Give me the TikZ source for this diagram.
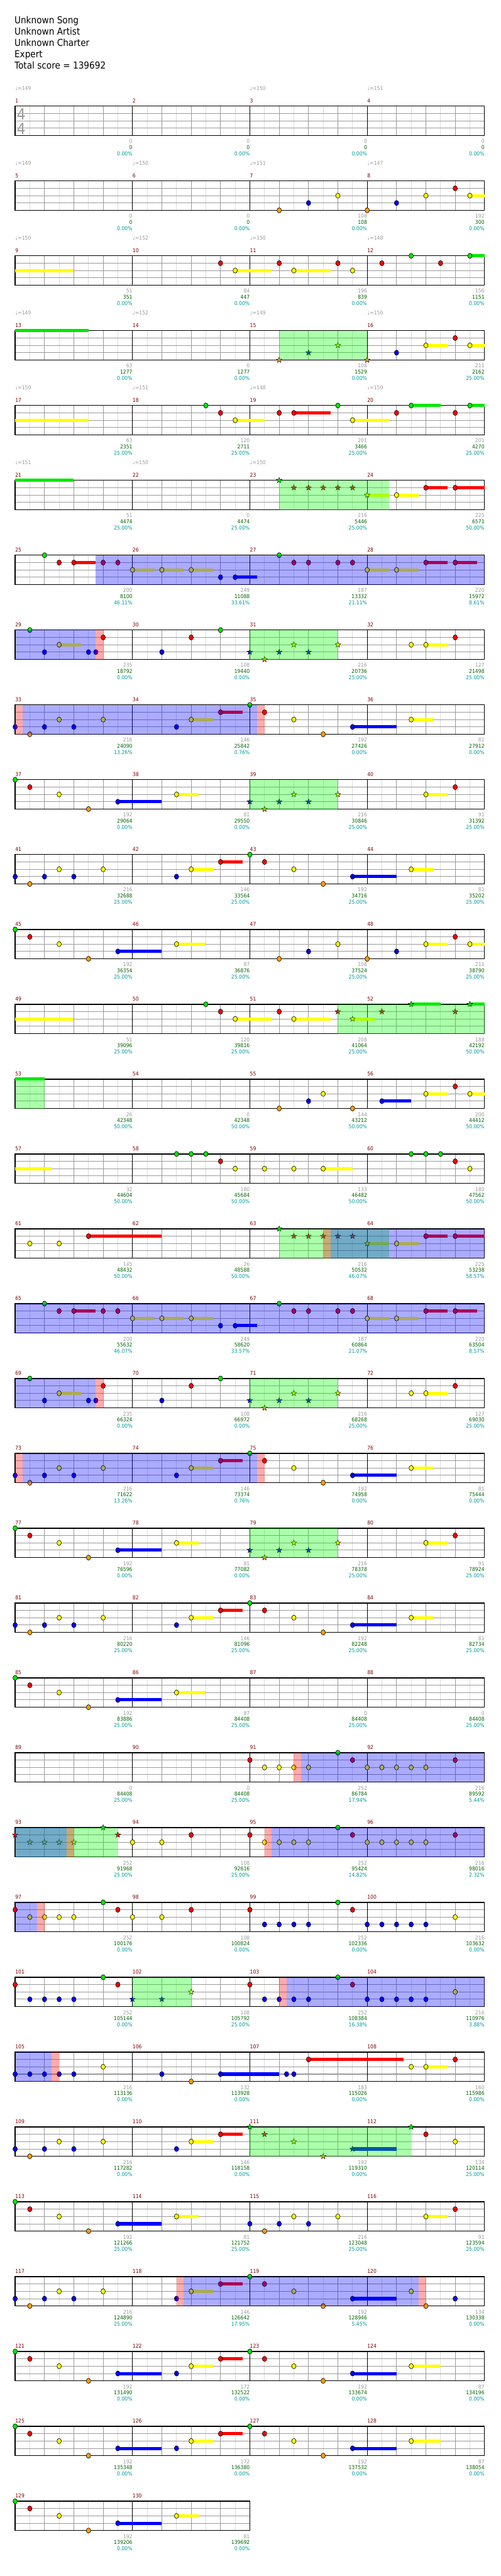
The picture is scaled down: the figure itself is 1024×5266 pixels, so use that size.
\documentclass[tikz,border=0pt]{standalone}
\usepackage{fontspec}
\setmainfont{DejaVu Sans}[FakeStretch=0.9]
\newfontfamily\notefont{DejaVu Sans}
\usetikzlibrary{shapes.geometric}

\definecolor{LANE0}{HTML}{00E800}
\definecolor{LANE1}{HTML}{FF0000}
\definecolor{LANE2}{HTML}{FFFF00}
\definecolor{LANE3}{HTML}{0000FF}
\definecolor{LANE4}{HTML}{FFA000}
\definecolor{CH_BAR}{HTML}{800000}
\definecolor{CH_GRAY}{HTML}{9A9A9A}
\definecolor{CH_LIGHT}{HTML}{DDDDDD}
\definecolor{CH_SCORE}{HTML}{006400}
\definecolor{CH_PCT}{HTML}{009999}

\tikzset{
  subline/.style={CH_LIGHT, line width=1pt},
  beatline/.style={CH_GRAY, line width=1pt},
  laneline/.style={CH_GRAY, line width=1.3pt},
  barline/.style={black, line width=1pt},
  staffbox/.style={black, line width=1.6pt},
  gem/.style={
    ellipse, draw=black, line width=0.8pt,
    minimum width=9pt, minimum height=10.5pt, inner sep=0pt},
  stargem/.style={
    star, star points=5, star point ratio=2.4,
    draw=black, line width=0.6pt, minimum size=12pt, inner sep=0pt},
  tail/.style={line width=6.5pt},
  spfill/.style={fill=blue, fill opacity=0.33},
  solofill/.style={fill=green, fill opacity=0.33},
  markfill/.style={fill=red, fill opacity=0.33},
  smalltxt/.style={inner sep=0pt, font=\fontsize{11}{11}\selectfont},
  barnum/.style={smalltxt, anchor=base west, text=CH_BAR},
  tempotxt/.style={smalltxt, anchor=base west, text=CH_GRAY},
  gaptxt/.style={smalltxt, anchor=base east, text=CH_GRAY},
  scoretxt/.style={smalltxt, anchor=base east, text=CH_SCORE},
  pcttxt/.style={smalltxt, anchor=base east, text=CH_PCT},
  header/.style={anchor=base west, inner sep=0pt, font=\fontsize{19.5}{19.5}\selectfont},
  timesig/.style={anchor=base west, inner sep=0pt, text=CH_GRAY, font=\fontsize{31}{31}\selectfont},
  row/.style={shift={(0,{217+153*(#1-1)})}},
}

% grid of one row, #1 = number of measures
\newcommand{\staff}[1]{%
  \pgfmathtruncatemacro\nsub{8*#1-1}
  \pgfmathtruncatemacro\nbar{#1-1}
  \foreach \j in {1,3,...,\nsub} \draw[subline] ({31+30*\j},0) -- ++(0,60);
  \foreach \j in {2,4,...,\nsub} \draw[beatline] ({31+30*\j},0) -- ++(0,60);
  \foreach \k in {15,30,45} \draw[laneline] (31,\k) -- ({31+240*#1},\k);
  \foreach \j in {1,...,\nbar} \draw[barline] ({31+240*\j},0) -- ++(0,60);
  \draw[staffbox] (31,0) rectangle ({31+240*#1},60);
}
\newcommand{\tails}[1]{%
  \foreach \from/\upto/\lane in {#1}
    \draw[tail, draw=LANE\lane] ({31+30*\from},{15*\lane}) -- ({31+30*\upto},{15*\lane});
}
\newcommand{\gems}[1]{%
  \foreach \pos/\lane [count=\n] in {#1}
    \node[gem, fill=LANE\lane] (gem\n) at ({31+30*\pos},{15*\lane}) {};
}
\newcommand{\stars}[1]{%
  \foreach \pos/\lane [count=\n] in {#1}
    \node[stargem, fill=LANE\lane] (star\n) at ({31+30*\pos},{15*\lane}) {};
}
\newcommand{\spzone}[2]{\fill[spfill] ({31+30*#1},0) rectangle ({31+30*#2},60);}
\newcommand{\solozone}[2]{\fill[solofill] ({31+30*#1},0) rectangle ({31+30*#2},60);}
\newcommand{\markzone}[2]{\fill[markfill] ({31+30*#1},0) rectangle ({31+30*#2},60);}
\newcommand{\bars}[2]{%
  \foreach \i in {1,...,#2} {
    \pgfmathtruncatemacro\mn{#1+\i-1}
    \node[barnum] (bar\mn) at ({31+240*(\i-1)},-7) {\mn};
  }
}
\newcommand{\tempos}[1]{%
  \foreach \i/\bpm in {#1}
    \node[tempotxt] (bpm\i) at ({31+240*(\i-1)},-33) {{\notefont ♩}=\bpm};
}
\newcommand{\scores}[1]{%
  \foreach \g/\s/\q [count=\i] in {#1} {
    \node[gaptxt] (gap\i) at ({31+240*\i},76) {\g};
    \node[scoretxt] (score\i) at ({31+240*\i},88.5) {\s};
    \node[pcttxt] (pct\i) at ({31+240*\i},101) {\q\%};
  }
}

% repeated phrases
\newcommand{\riffA}{%
  \tails{12/13.5/2,14/15.5/1,23/26/3,27/28.5/2}
  \gems{0/3,1/4,2/3,3/2,4/3,6/2,11/3,12/2,14/1,16/0,17/1,19/2,21/4,23/3,27/2}}
\newcommand{\riffB}{%
  \tails{7/10/3,11/12.5/2,28/29.5/2}
  \gems{0/0,1/1,3/2,5/4,7/3,11/2,28/2,30/1}
  \stars{16/3,17/4,18/3,19/2,20/3,22/2}
  \solozone{16}{22}}
\newcommand{\riffC}{%
  \tails{4/5.5/1,8/9.5/2,10/11.5/2,12/13.5/2,15/16.5/3,24/25.5/2,26/27.5/2,28/29.5/1,30/31.5/1}
  \gems{2/0,3/1,4/1,6/1,7/1,8/2,10/2,12/2,14/3,15/3,18/0,19/1,20/1,22/1,23/1,24/2,26/2,28/1,30/1}}
\newcommand{\riffD}{%
  \tails{3/4.5/2,28/29.5/2}
  \gems{1/0,2/3,3/2,5/3,5.5/3,6/1,10/3,12/1,14/0,27/2,28/2,30/1}
  \stars{16/3,17/4,18/3,19/2,20/3,22/2}
  \spzone{0}{5.5}\markzone{5.5}{6}\solozone{16}{22}}
\newcommand{\riffE}{%
  \gems{16/1,17/2,18/2,19/2,20/2,22/0,23/1,24/2,25/2,26/2,27/2,28/2,30/1}}
\newcommand{\riffF}{%
  \gems{16/1,17/3,18/3,19/3,20/3,22/0,23/1,24/3,25/3,26/3,27/3,28/3,30/2}}
\newcommand{\riffG}{%
  \tails{7/10/3,12/13.5/2,14/15.5/1,23/26/3,27/29/2}
  \gems{0/0,1/1,3/2,5/4,7/3,11/3,12/2,14/1,16/0,17/1,19/2,21/4,23/3,27/2}}

\begin{document}
\begin{tikzpicture}[x=1pt, y=-1pt]
  \useasboundingbox (0,0) rectangle (1024,5266);

  \node[header] (song)    at (29.5,48.7)  {Unknown Song};
  \node[header] (artist)  at (29.5,71.6)  {Unknown Artist};
  \node[header] (charter) at (29.5,94.5)  {Unknown Charter};
  \node[header] (level)   at (29.5,117.4) {Expert};
  \node[header] (total)   at (29.5,140.3) {Total score = 139692};

  \begin{scope}[row=1]
    \staff{4}
    \node[timesig] (sigtop) at (34.5,28) {4};
    \node[timesig] (sigbot) at (34.5,57) {4};
    \bars{1}{4}
    \tempos{1/149,3/150,4/151}
    \scores{0/0/0.00,0/0/0.00,0/0/0.00,0/0/0.00}
  \end{scope}

  \begin{scope}[row=2]
    \staff{4}
    \tails{31/32/2}
    \gems{18/4,20/3,22/2,24/4,26/3,28/2,30/1,31/2}
    \bars{5}{4}
    \tempos{1/149,2/150,3/151,4/147}
    \scores{0/0/0.00,0/0/0.00,108/108/0.00,192/300/0.00}
  \end{scope}

  \begin{scope}[row=3]
    \staff{4}
    \tails{0/4/2,15/17.5/2,19/21.5/2,31/32/0}
    \gems{14/1,15/2,18/1,19/2,22/1,23/2,25/1,27/0,29/1,31/0}
    \bars{9}{4}
    \tempos{1/150,2/152,3/150,4/148}
    \scores{51/351/0.00,84/447/0.00,196/839/0.00,156/1151/0.00}
  \end{scope}

  \begin{scope}[row=4]
    \staff{4}
    \tails{0/5/0,28/29.5/2,31/32/2}
    \gems{26/3,28/2,30/1,31/2}
    \stars{18/4,20/3,22/2,24/4}
    \solozone{18}{24}
    \bars{13}{4}
    \tempos{1/149,2/152,3/149,4/150}
    \scores{63/1277/0.00,0/1277/0.00,108/1529/0.00,211/2162/25.00}
  \end{scope}

  \begin{scope}[row=5]
    \staff{4}
    \tails{0/5/2,15/17/2,19/21.5/1,23/25.5/2,27/29/0,31/32/0}
    \gems{13/0,14/1,15/2,18/1,19/1,22/0,23/2,26/1,27/0,30/1,31/0}
    \bars{17}{4}
    \tempos{1/150,2/151,3/148,4/150}
    \scores{63/2351/25.00,120/2711/25.00,201/3466/25.00,201/4270/25.00}
  \end{scope}

  \begin{scope}[row=6]
    \staff{4}
    \tails{0/4/0,24/25.5/2,26/27.5/2,28/29.5/1,30/32/1}
    \gems{26/2,28/1,30/1}
    \stars{18/0,19/1,20/1,21/1,22/1,23/1,24/2}
    \solozone{18}{25.5}
    \bars{21}{4}
    \tempos{1/151,2/150,3/150}
    \scores{51/4474/25.00,0/4474/25.00,216/5446/25.00,225/6571/50.00}
  \end{scope}

  \begin{scope}[row=7]
    \staff{4}
    \riffC
    \spzone{5.5}{32}
    \bars{25}{4}
    \scores{200/8100/46.11,249/11088/33.61,187/13332/21.11,220/15972/8.61}
  \end{scope}

  \begin{scope}[row=8]
    \staff{4}
    \riffD
    \bars{29}{4}
    \scores{235/18792/0.00,108/19440/0.00,216/20736/25.00,127/21498/25.00}
  \end{scope}

  \begin{scope}[row=9]
    \staff{4}
    \riffA
    \markzone{0}{0.5}\spzone{0.5}{16.5}\markzone{16.5}{17}
    \bars{33}{4}
    \scores{216/24090/13.26,146/25842/0.76,192/27426/0.00,81/27912/0.00}
  \end{scope}

  \begin{scope}[row=10]
    \staff{4}
    \riffB
    \bars{37}{4}
    \scores{192/29064/0.00,81/29550/0.00,216/30846/25.00,91/31392/25.00}
  \end{scope}

  \begin{scope}[row=11]
    \staff{4}
    \riffA
    \bars{41}{4}
    \scores{216/32688/25.00,146/33564/25.00,192/34716/25.00,81/35202/25.00}
  \end{scope}

  \begin{scope}[row=12]
    \staff{4}
    \tails{7/10/3,11/13/2,28/29.5/2,31/32/2}
    \gems{0/0,1/1,3/2,5/4,7/3,11/2,18/4,20/3,22/2,24/4,26/3,28/2,30/1,31/2}
    \bars{45}{4}
    \scores{192/36354/25.00,87/36876/25.00,108/37524/25.00,211/38790/25.00}
  \end{scope}

  \begin{scope}[row=13]
    \staff{4}
    \tails{0/4/2,15/17.5/2,19/21.5/2,23/24.5/2,27/29/0,31/32/0}
    \gems{13/0,14/1,15/2,18/1,19/2}
    \stars{22/1,23/2,25/1,27/0,30/1,31/0}
    \solozone{22}{32}
    \bars{49}{4}
    \scores{51/39096/25.00,120/39816/25.00,208/41064/25.00,188/42192/50.00}
  \end{scope}

  \begin{scope}[row=14]
    \staff{4}
    \tails{0/2/0,25/27/3,28/29.5/2,31/32/2}
    \gems{18/4,20/3,21/2,23/4,25/3,28/2,30/1,31/2}
    \solozone{0}{2}
    \bars{53}{4}
    \scores{26/42348/50.00,0/42348/50.00,144/43212/50.00,200/44412/50.00}
  \end{scope}

  \begin{scope}[row=15]
    \staff{4}
    \tails{0/2.5/2,21/23/2}
    \gems{11/0,12/0,13/0,14/1,15/2,17/2,19/2,21/2,27/0,28/0,29/0,30/1,31/2}
    \bars{57}{4}
    \scores{32/44604/50.00,180/45684/50.00,133/46482/50.00,180/47562/50.00}
  \end{scope}

  \begin{scope}[row=16]
    \staff{4}
    \tails{5/10/1,24/25.5/2,26/27.5/2,28/29.5/1,30/32/1}
    \gems{1/2,3/2,5/1,26/2,28/1,30/1}
    \stars{18/0,19/1,20/1,21/1,22/1,23/1,24/2}
    \solozone{18}{25.5}\markzone{21}{21.5}\spzone{21.5}{32}
    \bars{61}{4}
    \scores{145/48432/50.00,26/48588/50.00,216/50532/46.07,225/53238/58.57}
  \end{scope}

  \begin{scope}[row=17]
    \staff{4}
    \riffC
    \spzone{0}{32}
    \bars{65}{4}
    \scores{200/55632/46.07,249/58620/33.57,187/60864/21.07,220/63504/8.57}
  \end{scope}

  \begin{scope}[row=18]
    \staff{4}
    \riffD
    \bars{69}{4}
    \scores{235/66324/0.00,108/66972/0.00,216/68268/25.00,127/69030/25.00}
  \end{scope}

  \begin{scope}[row=19]
    \staff{4}
    \riffA
    \markzone{0}{0.5}\spzone{0.5}{16.5}\markzone{16.5}{17}
    \bars{73}{4}
    \scores{216/71622/13.26,146/73374/0.76,192/74958/0.00,81/75444/0.00}
  \end{scope}

  \begin{scope}[row=20]
    \staff{4}
    \riffB
    \bars{77}{4}
    \scores{192/76596/0.00,81/77082/0.00,216/78378/25.00,91/78924/25.00}
  \end{scope}

  \begin{scope}[row=21]
    \staff{4}
    \riffA
    \bars{81}{4}
    \scores{216/80220/25.00,146/81096/25.00,192/82248/25.00,81/82734/25.00}
  \end{scope}

  \begin{scope}[row=22]
    \staff{4}
    \tails{7/10/3,11/13/2}
    \gems{0/0,1/1,3/2,5/4,7/3,11/2}
    \bars{85}{4}
    \scores{192/83886/25.00,87/84408/25.00,0/84408/25.00,0/84408/25.00}
  \end{scope}

  \begin{scope}[row=23]
    \staff{4}
    \riffE
    \markzone{19}{19.5}\spzone{19.5}{32}
    \bars{89}{4}
    \scores{0/84408/25.00,0/84408/25.00,252/86784/17.94,216/89592/5.44}
  \end{scope}

  \begin{scope}[row=24]
    \staff{4}
    \gems{8/2,10/2,12/1}
    \riffE
    \stars{0/1,1/2,2/2,3/2,4/2,6/0,7/1}
    \solozone{0}{7}\spzone{0}{3.5}\markzone{3.5}{4}
    \markzone{17}{17.5}\spzone{17.5}{32}
    \bars{93}{4}
    \scores{252/91968/25.00,108/92616/25.00,252/95424/14.82,216/98016/2.32}
  \end{scope}

  \begin{scope}[row=25]
    \staff{4}
    \gems{0/1,1/2,2/2,3/2,4/2,6/0,7/1,8/2,10/2,12/1}
    \riffF
    \spzone{0}{1.5}\markzone{1.5}{2}
    \bars{97}{4}
    \scores{252/100176/0.00,108/100824/0.00,252/102336/0.00,216/103632/0.00}
  \end{scope}

  \begin{scope}[row=26]
    \staff{4}
    \gems{0/1,1/3,2/3,3/3,4/3,6/0,7/1}
    \riffF
    \stars{8/3,10/3,12/2}
    \solozone{8}{12}\markzone{18}{18.5}\spzone{18.5}{32}
    \bars{101}{4}
    \scores{252/105144/0.00,108/105792/25.00,252/108384/16.38,216/110976/3.88}
  \end{scope}

  \begin{scope}[row=27]
    \staff{4}
    \tails{14/18/3,20/26.5/1,28/29.5/2}
    \gems{0/3,1/3,2/3,3/3,4/3,6/2,10/3,12/4,14/3,18.5/3,19/3,20/1,27/2,28/2,30/1}
    \spzone{0}{2.5}\markzone{2.5}{3}
    \bars{105}{4}
    \scores{216/113136/0.00,132/113928/0.00,183/115026/0.00,160/115986/0.00}
  \end{scope}

  \begin{scope}[row=28]
    \staff{4}
    \tails{12/13.5/2,14/15.5/1,23/26/3}
    \gems{0/3,1/4,2/3,3/2,4/3,6/2,11/3,12/2,14/1,28/1,30/2}
    \stars{16/0,17/1,19/2,21/4,23/3,27/0}
    \solozone{16}{27}
    \bars{109}{4}
    \scores{216/117282/0.00,146/118158/0.00,192/119310/0.00,134/120114/25.00}
  \end{scope}

  \begin{scope}[row=29]
    \staff{4}
    \tails{7/10/3,11/12.5/2,28/29.5/2}
    \gems{0/0,1/1,3/2,5/4,7/3,11/2,16/3,17/4,18/3,19/2,20/3,22/2,28/2,30/1}
    \bars{113}{4}
    \scores{192/121266/25.00,81/121752/25.00,216/123048/25.00,91/123594/25.00}
  \end{scope}

  \begin{scope}[row=30]
    \staff{4}
    \tails{12/13.5/2,14/15.5/1,23/26/3}
    \gems{0/3,1/4,2/3,3/2,4/3,6/2,11/3,12/2,14/1,16/0,17/1,19/2,21/4,23/3,27/2,28/4,30/3}
    \markzone{11}{11.5}\spzone{11.5}{27.5}\markzone{27.5}{28}
    \bars{117}{4}
    \scores{216/124890/25.00,146/126642/17.95,192/128946/5.45,134/130338/0.00}
  \end{scope}

  \begin{scope}[row=31]
    \staff{4}
    \riffG
    \bars{121}{4}
    \scores{192/131490/0.00,172/132522/0.00,192/133674/0.00,87/134196/0.00}
  \end{scope}

  \begin{scope}[row=32]
    \staff{4}
    \riffG
    \bars{125}{4}
    \scores{192/135348/0.00,172/136380/0.00,192/137532/0.00,87/138054/0.00}
  \end{scope}

  \begin{scope}[row=33]
    \staff{2}
    \tails{7/10/3,11/12.5/2}
    \gems{0/0,1/1,3/2,5/4,7/3,11/2}
    \bars{129}{2}
    \scores{192/139206/0.00,81/139692/0.00}
  \end{scope}
\end{tikzpicture}
\end{document}
